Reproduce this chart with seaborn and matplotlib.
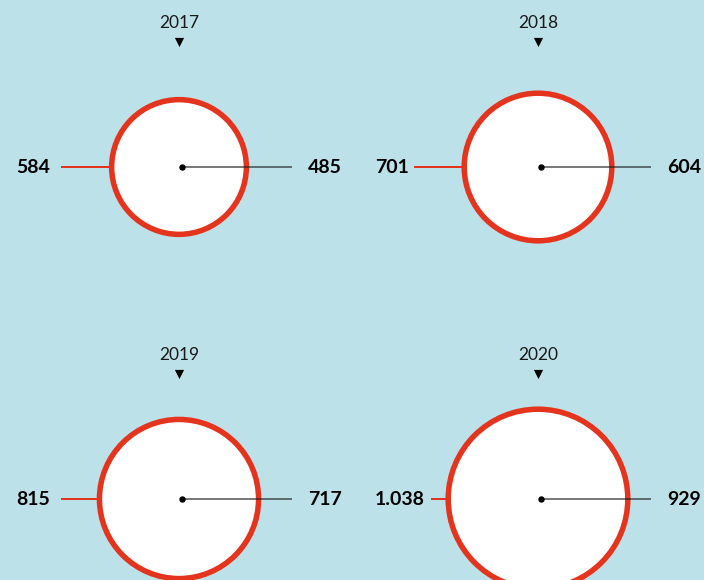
import matplotlib
matplotlib.use("Agg")
import matplotlib.pyplot as plt
import seaborn as sns
import pandas as pd

# Data
years = ["2017", "2018", "2019", "2020"]
totals = [584, 701, 815, 1038]        # outer circle value (red)
subsets = [485, 604, 717, 929]         # value on the radius line (black)

# Styling
BG = "#bde1e8"
RED = "#e5341d"
DARK = "#1a1a1a"
W, H = 704, 580
PX = 0.72  # points per pixel at dpi 100

sns.set_theme(style="white")
plt.rcParams["font.family"] = ["Lato", "DejaVu Sans"]

# 2x2 grid layout: panel centres in pixel space
col_x = [179, 538]
row_y = [167, 499]
red_start = [-118, -124, -118, -107]   # where the red lead line begins, relative to centre

df = pd.DataFrame({
    "year": years,
    "total": totals,
    "subset": subsets,
    "cx": [col_x[i % 2] for i in range(len(years))],
    "cy": [row_y[i // 2] for i in range(len(years))],
})

def fmt(v):
    return f"{v:,}".replace(",", ".")

fig = plt.figure(figsize=(W / 100, H / 100), dpi=100, facecolor=BG)
ax = fig.add_axes([0, 0, 1, 1])
ax.set_facecolor(BG)
ax.set_xlim(0, W)
ax.set_ylim(H, 0)
ax.axis("off")

# red lead lines (behind the circles)
for i, r in df.iterrows():
    ax.plot([r.cx + red_start[i], r.cx], [r.cy, r.cy], color=RED, lw=2 * PX,
            zorder=1, solid_capstyle="butt")

# circles: area proportional to the total
max_s = 16720
sns.scatterplot(data=df, x="cx", y="cy", size="total", sizes=(0, max_s),
                size_norm=(0, max(totals)), color="white", edgecolor=RED,
                linewidth=5.5 * PX, legend=False, ax=ax, zorder=2)

# radius line with centre dot
for i, r in df.iterrows():
    ax.plot([r.cx + 2.5, r.cx + 113], [r.cy, r.cy], color=DARK, alpha=0.72,
            lw=1.6 * PX, zorder=3, solid_capstyle="butt")
    ax.plot([r.cx + 2.5], [r.cy], marker="o", ms=5 * PX, color="black", zorder=4)

# year markers
tri = df.assign(ty=df.cy - 125)
sns.scatterplot(data=tri, x="cx", y="ty", marker="v", s=44, color="black",
                linewidth=0, legend=False, ax=ax, zorder=4)

for i, r in df.iterrows():
    ax.text(r.cx, r.cy - 144, r.year, ha="center", va="center", fontsize=12.5,
            color=DARK)
    ax.text(r.cx - 163, r.cy + 0.5, fmt(r.total), ha="left", va="center",
            fontsize=14, fontweight="bold", color="black")
    ax.text(r.cx + 163, r.cy + 0.5, fmt(r.subset), ha="right", va="center",
            fontsize=14, fontweight="bold", color="black")

ax.set_xlabel("")
ax.set_ylabel("")
fig.savefig("out.png", dpi=100, facecolor=BG)
